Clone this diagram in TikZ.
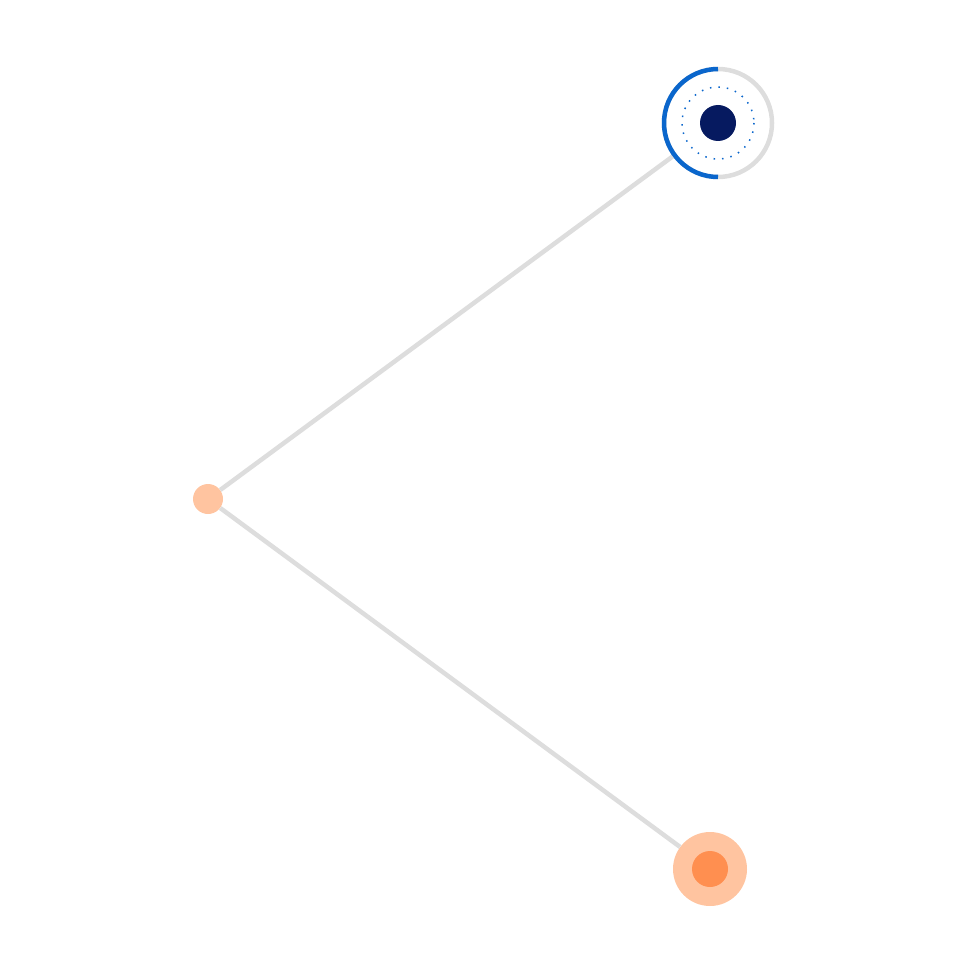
\documentclass[tikz,border=0pt]{standalone}
\begin{document}
\begin{tikzpicture}[x=1pt,y=-1pt]
\definecolor{edge}{HTML}{DDDDDD}
\definecolor{peach}{HTML}{FFC4A0}
\definecolor{orng}{HTML}{FF8F50}
\definecolor{navy}{HTML}{061A60}
\definecolor{blu}{HTML}{0A66CC}
\tikzset{link/.style={draw=edge,line width=4.5pt}}
\useasboundingbox (0,0) rectangle (960,960);
\coordinate (t) at (718,123);
\node[circle,fill=peach,minimum size=30pt,inner sep=0] (m) at (208,499) {};
\node[circle,fill=peach,minimum size=74pt,inner sep=0] (b) at (710,869) {};
\node[circle,minimum size=112pt,inner sep=0] (tr) at (t) {};
\draw[link] (m) -- (tr);
\draw[link] (m) -- (b);
\fill[orng] (b) circle (18);
\draw[edge,line width=4.5pt] (t) circle (54);
\draw[blu,line width=4.5pt] (718,69) arc (270:90:54);
\draw[blu,line width=1.5pt,dash pattern=on 1.5pt off 7pt] (t) circle (36);
\fill[navy] (t) circle (18);
\end{tikzpicture}
\end{document}
